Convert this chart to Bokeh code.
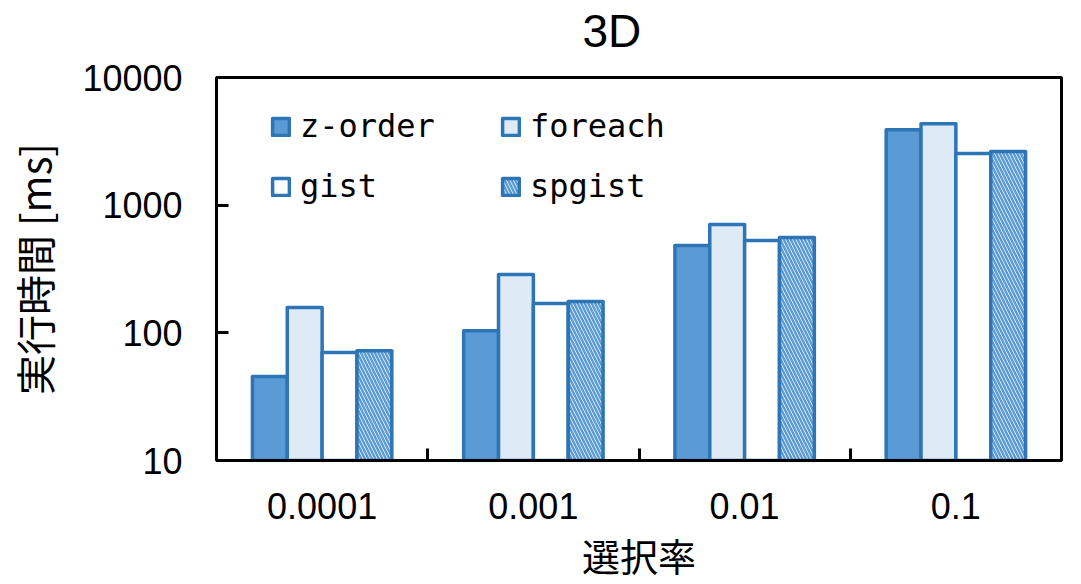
from bokeh.plotting import figure
from bokeh.models import (Range1d, FixedTicker, PrintfTickFormatter, ColumnDataSource,
                          Legend, LegendItem, Title)
from bokeh.embed import file_html
from bokeh.resources import INLINE

categories = ["0.0001", "0.001", "0.01", "0.1"]
series = ["z-order", "foreach", "gist", "spgist"]
zorder = [45.5, 104, 483, 3900]
foreach = [158, 286, 705, 4350]
gist = [70, 170, 528, 2540]
spgist = [72.5, 176, 557, 2630]
y_ticks = [10, 100, 1000, 10000]

values = [zorder, foreach, gist, spgist]
fills = ["#5B9BD5", "#DEEBF7", "#FFFFFF", "#FFFFFF"]
hatches = [" ", " ", " ", "\\"]
offsets = [-0.2475, -0.0825, 0.0825, 0.2475]
bar_w = 0.165
edge = "#2E75B6"

JP = "Noto Sans CJK JP"
LAT = "Liberation Sans"
MONO = "DejaVu Sans Mono"

p = figure(width=1071, height=584, output_backend="svg", toolbar_location=None,
           y_axis_type="log", x_range=Range1d(0, len(categories)),
           y_range=Range1d(y_ticks[0], y_ticks[-1]),
           min_border_left=216, min_border_right=10, min_border_top=77,
           min_border_bottom=124)

p.title = Title(text="3D", align="left", offset=366, standoff=0, vertical_align="top",
                text_font=LAT, text_font_size="46px", text_font_style="normal",
                text_line_height=1.0, text_color="black")
# blank spacer between the title and the frame
p.add_layout(Title(text=" ", standoff=0, text_font_size="16px", text_line_height=1.0), "above")

centers = [i + 0.5 for i in range(len(categories))]
renderers = []
for k, name in enumerate(series):
    src = ColumnDataSource(dict(x=[c + offsets[k] for c in centers], top=values[k]))
    r = p.vbar(x="x", top="top", bottom=y_ticks[0], width=bar_w, source=src,
               fill_color=fills[k], line_color=edge, line_width=3.5,
               hatch_pattern=hatches[k], hatch_color="#5B9BD5",
               hatch_scale=7, hatch_weight=2.5, line_join="round")
    renderers.append(r)

p.xgrid.visible = False
p.ygrid.visible = False
p.outline_line_color = "black"
p.outline_line_width = 3

xa = p.xaxis[0]
xa.ticker = FixedTicker(ticks=centers, minor_ticks=[1, 2, 3])
xa.major_label_overrides = {c: categories[i] for i, c in enumerate(centers)}
xa.major_tick_in = 0
xa.major_tick_out = 0
xa.minor_tick_in = 12
xa.minor_tick_out = 0
xa.minor_tick_line_width = 3
xa.minor_tick_line_color = "black"
xa.axis_line_width = 3
xa.axis_line_color = "black"
xa.major_label_text_font = LAT
xa.major_label_text_font_size = "36px"
xa.major_label_text_color = "black"
xa.major_label_standoff = 32
xa.axis_label = "選択率"
xa.axis_label_text_font = JP
xa.axis_label_text_font_size = "38px"
xa.axis_label_text_font_style = "normal"
xa.axis_label_text_color = "black"
xa.axis_label_standoff = 5

ya = p.yaxis[0]
ya.ticker = FixedTicker(ticks=y_ticks, minor_ticks=[])
ya.formatter = PrintfTickFormatter(format="%d")
ya.major_tick_in = 12
ya.major_tick_out = 0
ya.major_tick_line_width = 3
ya.minor_tick_in = 0
ya.minor_tick_out = 0
ya.axis_line_width = 3
ya.axis_line_color = "black"
ya.major_label_text_font = LAT
ya.major_label_text_font_size = "36px"
ya.major_label_text_color = "black"
ya.major_label_standoff = 34
ya.axis_label = "実行時間 [ms]"
ya.axis_label_text_font = JP
ya.axis_label_text_font_size = "40px"
ya.axis_label_text_font_style = "normal"
ya.axis_label_text_color = "black"
ya.axis_label_standoff = 16

legend = Legend(items=[LegendItem(label=n, renderers=[renderers[k]]) for k, n in enumerate(series)],
                location=(44, 234), ncols=2, orientation="horizontal",
                background_fill_alpha=0, border_line_alpha=0,
                label_text_font=MONO, label_text_font_size="32px", label_text_color="black",
                glyph_width=21, glyph_height=21, label_standoff=9,
                label_height=60, label_width=200, spacing=0, padding=10, margin=0)
p.add_layout(legend)

open("out.html", "w").write(file_html(p, INLINE))
